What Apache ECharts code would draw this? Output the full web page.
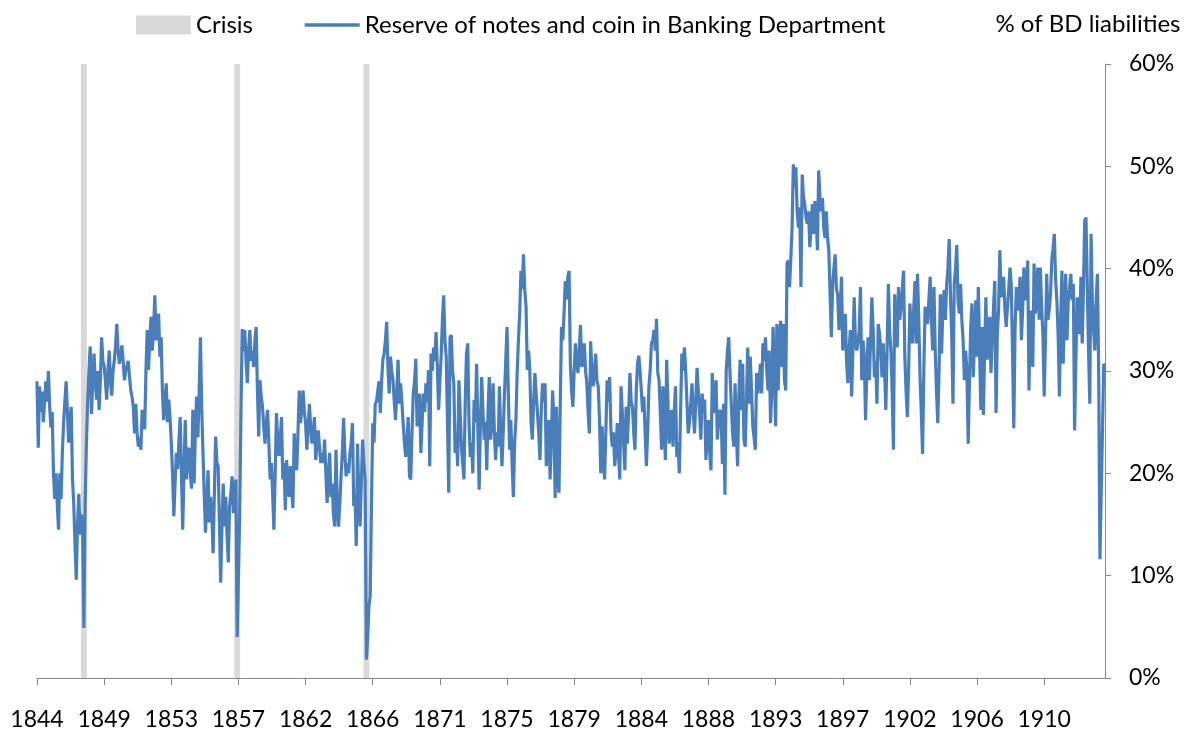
<!DOCTYPE html>
<html><head><meta charset="utf-8">
<script src="https://cdn.jsdelivr.net/npm/echarts@6/dist/echarts.min.js"></script>
<style>html,body{margin:0;padding:0;background:#fff}#chart{width:1195px;height:735px}</style>
</head><body><div id="chart"></div>
<script>
// Monthly series, starting September 1844
const startYear = 1844, startMonth = 9;
const tickLabels = ['1844','1849','1853','1857','1862','1866','1871','1875','1879','1884','1888','1893','1897','1902','1906','1910'];
const labelEvery = 53; // months between labelled ticks
const crisisMonths = ['1847-10','1857-11','1866-05'];
const crisisLevel = 60;
const seriesName = 'Reserve of notes and coin in Banking Department';
const unitName = '% of BD liabilities';

// Reserve (% of Banking Department liabilities)
const reserveA = [29,22.5,28.5,26,28,25,27,29,27,30,
26.5,24.5,26,20,17.5,20,17,14.5,20,17.5,
22,25,27,29,26,23,25,26.5,19.5,17,
13,9.6,15,18,14,16,14.5,4.9,17,23,
27,30,32.4,25.8,29,31.7,29,27.2,30,26.2,
29,33.3,31,30.5,29,27.2,30,32,29,27.6,
30,31,32.5,34.6,32,30.7,31.5,32.5,31,29.1,
30,30.5,31,29.5,28.1,27.5,26.5,23.9,26.8,24,
22.6,23.5,22.3,26.2,25,24.3,30,34,30.1,33,
35.3,32,34,37.4,33,34.5,35.6,31.4,33.3,28,
25.2,27,28.8,25,27.2,25.5,23,20,15.8,19,
22,20.4,23,25.5,20,14.5,20,25.2,19.4,22,
22.5,20,18.5,26.2,19,24,27.5,23.5,28,33.3,
26.5,22,18,14.2,17,20.3];
const reserveB = [15.2,17.7,16,12.2,
18,23.6,21,20.7,15,9.3,15,19,14.8,17.7,
14,11.3,16.8,18,19.7,16.1,18,19.4,4,10,
16,26,34.1,32,34,31,28.8,32,34,31,
32,30.4,33,34.3,28,23.6,29.1,27.5,26.5,24.5,
22.9,25,26.2,23,19.4,21,18,14.5,20,25.9,
23,21.7,23.5,25.5,19.4,21,16.4,21.3,19,17.7,
20.7,18.5,16.6,23.9,21.5,20.3,24,28.1,24.9,26.5,
28.1,26,24.9,22.3,24.5,26.8,24.5,22.9,24,25.5,
21.3,23,24.2,22.5,21,22,21,23.3,20,17.1,
20,22,17.7,19,16,14.8,22.3,17,14.8,17,
19.7,22,25.4,22,19.7,21,20,22,23,24.9,
16.8,18,12.9,22.9,18,14.8,19,23.3,21,19.4,
1.8,4,7,8,16.8,24.9,23,26.8,27,28.1,29];
const reserveC = [25.9,29,31.1,31.7,33,34.8,30.4,27.8,31.4,
30,29.1,27,25.2,28,31.1,26.8,28.8,27,24.9,
23,21.6,23,25.5,19.7,19.4,24,27.8,29,31.2,
24.6,26,27.8,22,25,27.8,26,28.8,27,30.1,
20.7,31.7,30,32.3,31,33.8,30.4,26.2,29,31.4,
35,37.4,33,31.4,25,18.1,33.3,33.5,30,28.8,
22,24,20.7,29.1,26,22.6,21,19.4,27,31.7,
32.7,25,21.6,23,20,27.2,25,30.7,24,18.4,
25,29.4,26,23.3,25,20.3,26,29.4,23.3,25,
28.8,24,21.3,24,22.6,28.5,24,20.7,24,27.8,
31,34.3,28,22.3,25.2,21,17.7,23,25.2,29.8,
33,35.6,39.8,38,41.4,38,36.3,30.1,32,30.1,
24.9,23.3,27,29.8,27.8,26,24,21.3,26,28.8,
27,28.8,20.7,23,25.2];
const reserveD = [19.4,23.3,28.1,25,17.6,26.5,20,18.1,26.5,
34.3,33,35.6,38.8,37,39.2,39.8,30.7,28,26.5,
30,32.7,31,29.8,32,34.5,30.4,31,32.7,30,
28.8,26,23.9,32.9,30,28.5,30,31.7,29,28.5,
25.2,20,24.6,22,19.4,24,29.1,27,29.4,24.3,
22.6,24,20.7,22,24.9,22,19.4,28.5,25.9,23,
20.3,26.5,22.9,26,29.8,27,26.5,24,22.3,28,
30.7,31.5,30,28.1,26,27.5,24,20.7,24,28.5,
30,32.7,33,34,32,35.1,29.8,29.1,26,22.3,
28.5,25,21.3,31.1,27,22.9,25,26.2,22.6,26,
28.5,21.6,23,20,26,31.7,30,32.3,30.1,27,
23.9,25,26.8,28.8,26,23.9,27,30.3,28,25.9,
23.3,27.8,26,27.2,21.3,24,25.2,22,20.3,29.8,
25.9,27,29.1,23.3,25,26.2];
const reserveE = [25.9,20.9,26.8,17.9,30,32,33.3,29.8,26.8,24,
22.6,28.8,24,20.7,27.5,31.1,26.2,30.7,23.3,22.6,
27,32.3,26.8,31.4,28,24.6,23.5,22.3,29.8,27.8,
29,30.7,27.8,32.7,31,33.3,30,28.1,32,24.9,
28,34.3,29.8,24.6,34.6,28.1,33,34.9,30.4,34.6,
29.1,28.1,40.5,40.8,38.2,41,44,50.2,48,49.9,
45.6,44,46,38.2,49.2,47,46.3,45,44.4,45.6,
42.1,44,46.3,43.4,46.6,45,41.8,49.6,47,45.6,
46.9,44,43,45.6,43,41.8,37.5,33.3,38.5,40,
41.4,38,37.5,34,36,39.2,32,34,35.6,31,
28.8,32,34,27.5,32,37.2,33,32,32.7,34,
38.2,29.1,33,31.4,25.2,30,33.3,29.1,33,37.2,
34,29.4,31,26.8,34.6,33.7,32,29.4,32.7,30,
26.2,32,38.5,34,32,28,22.3,37.5,34,32.3,
38.2,35,36.3,38,39.8,31.4,28,25.5,30,36.6,
34,32.7,36,38.8,32.7,39.5,35,29.4,26,21.9,
30,36.3,35,34.6,37,39.2,35,32,38.2,32,
28,24.9,30,37.5];
const reserveF = [31.7,36,37.9,35,38.5,40,
42.9,37.5,33.6,26.8,38.5,40,42.3,36.9,35.6,38.5,
35,33,29.1,32,30,22.9,28.8,34.3,36.6,29.4,
33,36.9,31.4,38.2,32,26.2,34.3,25.7,32,37.2,
31.1,33,35.3,29.8,33,36.2,38.8,25.9,33.6,36,
41.8,37.2,38,39.2,36,34.3,36.2,38,40.1,38.5,
32,24.4,34,38.2,35.9,37,39.2,33,36,40.1,
36.9,38,40.8,28.1,35.9,33,30.4,40.5,35.6,38,
40.1,35,40.1,36,33.6,27.5,33,39.5,35,36,
37.5,40.8,42,43.4,39,36.9,33.6,27.5,35,39.8,
30.7,36,39.5,33,36.9,38,39.5,36.9,38.5,24.2,
31,37.2,35,33.6,39.2,32.7,38,44.7,45,38.5,
32,26.8,43.4,36.9,34,32,36.9,39.5,30,11.6,
18,24.2,30.7,30.4];

const reserve = [].concat(reserveA, reserveB, reserveC, reserveD, reserveE, reserveF);
const months = reserve.map((_, i) => {
  const m = startMonth - 1 + i;
  return (startYear + Math.floor(m / 12)) + '-' + String(m % 12 + 1).padStart(2, '0');
});
const crisisData = months.map(m => crisisMonths.includes(m) ? crisisLevel : null);

const FONT = 'Lato';
const BLUE = '#4a7ebb';
const chart = echarts.init(document.getElementById('chart'), null, {renderer: 'canvas'});
chart.setOption({
  animation: false,
  backgroundColor: '#fff',
  textStyle: {fontFamily: FONT},
  grid: {left: 37, right: 90, top: 64, bottom: 57},
  legend: {
    left: 136, top: 13, padding: 0,
    itemWidth: 55, itemHeight: 19, itemGap: 50,
    textStyle: {fontFamily: FONT, fontSize: 24, color: '#000'},
    data: [
      {name: 'Crisis', icon: 'rect'},
      {name: seriesName, itemStyle: {opacity: 0, color: 'rgba(0,0,0,0)', borderWidth: 0},
       lineStyle: {width: 3.4, color: BLUE}}
    ]
  },
  xAxis: {
    type: 'category', data: months, boundaryGap: false,
    axisLine: {lineStyle: {color: '#868686', width: 1}},
    axisTick: {interval: labelEvery - 1, length: 7, lineStyle: {color: '#868686'}},
    axisLabel: {
      interval: labelEvery - 1, margin: 30, fontSize: 23, color: '#000', fontFamily: FONT,
      formatter: (v, i) => tickLabels[Math.round(i / labelEvery)] || ''
    },
    splitLine: {show: false}
  },
  yAxis: {
    type: 'value', position: 'right', min: 0, max: 60, interval: 10,
    name: unitName, nameLocation: 'end', nameGap: 28,
    nameTextStyle: {fontFamily: FONT, fontSize: 24, color: '#000', align: 'center', padding: [0, 34, 0, 0]},
    axisLine: {show: true, lineStyle: {color: '#868686', width: 1}},
    axisTick: {show: true, length: 6, lineStyle: {color: '#868686'}},
    axisLabel: {formatter: '{value}%', margin: 24, fontSize: 23, color: '#000', fontFamily: FONT},
    splitLine: {show: false}
  },
  series: [
    {name: 'Crisis', type: 'bar', data: crisisData, barWidth: 6, itemStyle: {color: '#d9d9d9'}, z: 1},
    {name: seriesName, type: 'line', data: reserve, symbol: 'none', showSymbol: false,
     lineStyle: {color: BLUE, width: 3.2}, itemStyle: {color: BLUE}, z: 2}
  ]
});
</script></body></html>
